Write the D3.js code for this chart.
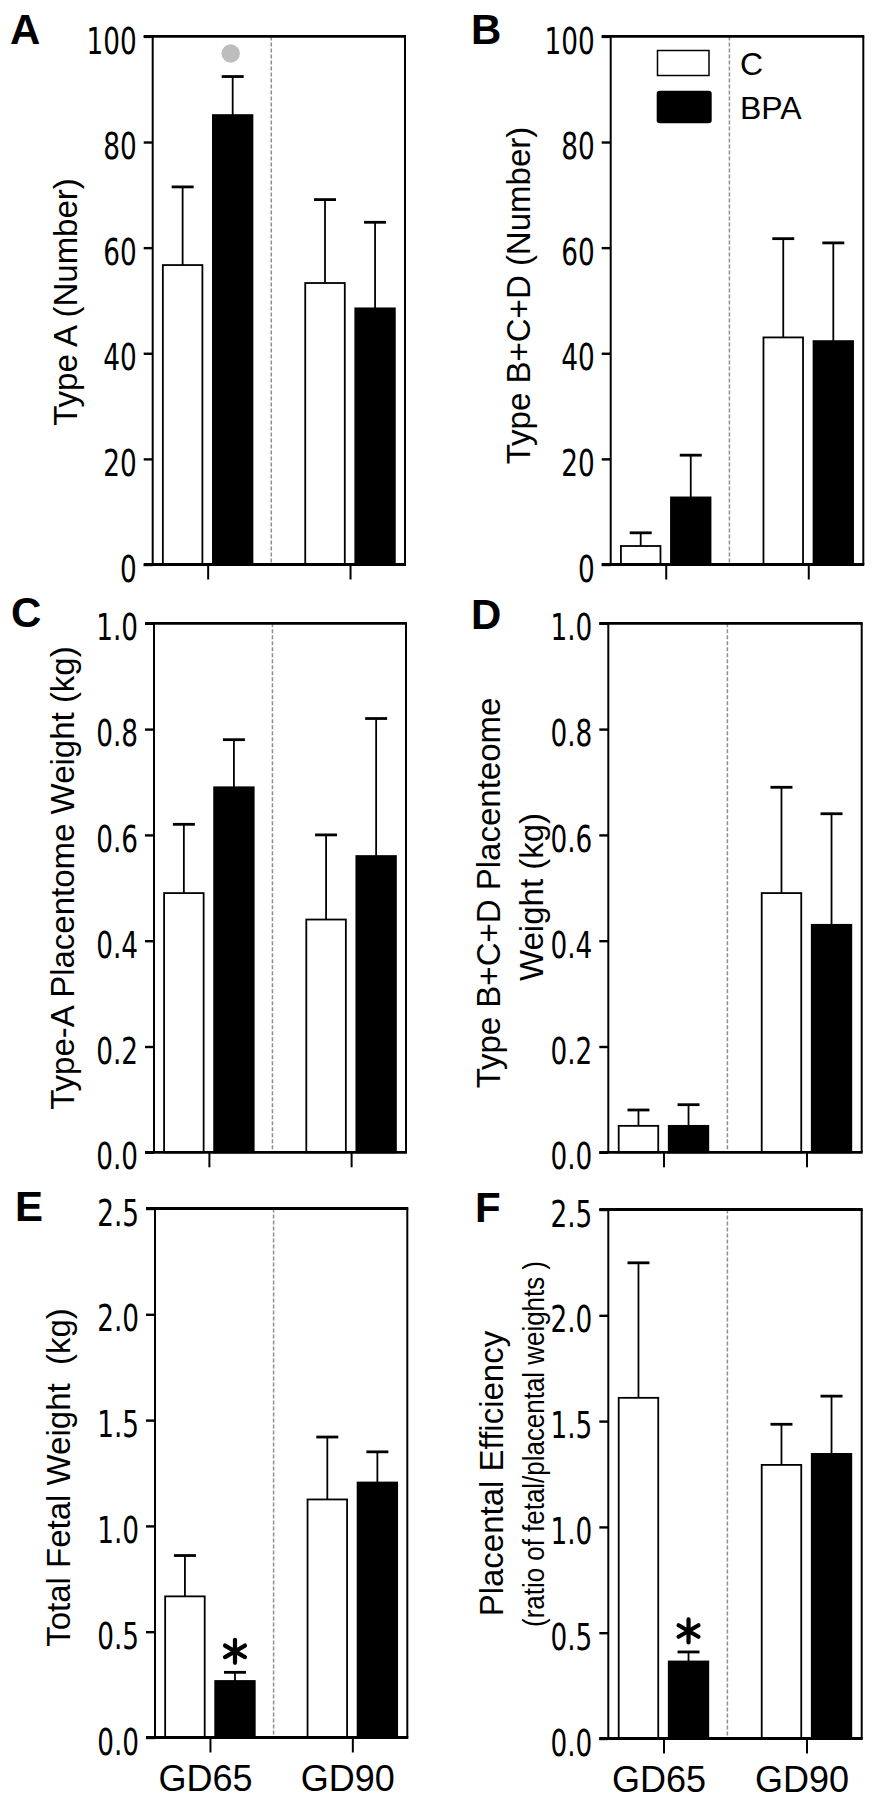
<!DOCTYPE html>
<html>
<head>
<meta charset="utf-8">
<script src="https://cdn.jsdelivr.net/npm/d3@7"></script>
<style>
  body { margin: 0; background: #fff; }
  svg { display: block; }
</style>
</head>
<body>
<svg id="chart" width="881" height="1800"></svg>
<script>
// ---------------- DATA ----------------
const categories = ["GD65", "GD90"];
const series = ["C", "BPA"];

// A: Type A (Number)
const typeA_C = [56.7, 53.3];
const typeA_C_upper = [71.5, 69.1];
const typeA_BPA = [85.1, 48.5];
const typeA_BPA_upper = [92.4, 64.8];

// B: Type B+C+D (Number)
const typeBCD_C = [3.5, 43.0];
const typeBCD_C_upper = [6.0, 61.7];
const typeBCD_BPA = [12.7, 42.3];
const typeBCD_BPA_upper = [20.7, 60.9];

// C: Type-A Placentome Weight (kg)
const typeAWeight_C = [0.49, 0.44];
const typeAWeight_C_upper = [0.62, 0.60];
const typeAWeight_BPA = [0.69, 0.56];
const typeAWeight_BPA_upper = [0.78, 0.82];

// D: Type B+C+D Placenteome Weight (kg)
const typeBCDWeight_C = [0.05, 0.49];
const typeBCDWeight_C_upper = [0.08, 0.69];
const typeBCDWeight_BPA = [0.05, 0.43];
const typeBCDWeight_BPA_upper = [0.09, 0.64];

// E: Total Fetal Weight (kg)
const fetalWeight_C = [0.667, 1.125];
const fetalWeight_C_upper = [0.86, 1.42];
const fetalWeight_BPA = [0.267, 1.205];
const fetalWeight_BPA_upper = [0.308, 1.35];

// F: Placental Efficiency
const efficiency_C = [1.61, 1.293];
const efficiency_C_upper = [2.248, 1.485];
const efficiency_BPA = [0.364, 1.345];
const efficiency_BPA_upper = [0.409, 1.618];

// Ticks
const countTicks = [0, 20, 40, 60, 80, 100];
const countTickLabels = ["0", "20", "40", "60", "80", "100"];
const weightTicks = [0, 0.2, 0.4, 0.6, 0.8, 1.0];
const weightTickLabels = ["0.0", "0.2", "0.4", "0.6", "0.8", "1.0"];
const largeTicks = [0, 0.5, 1.0, 1.5, 2.0, 2.5];
const largeTickLabels = ["0.0", "0.5", "1.0", "1.5", "2.0", "2.5"];

// Significance marks
const annotations = [
  { panel: "A", category: "GD65", series: "BPA", mark: "dot" },
  { panel: "E", category: "GD65", series: "BPA", mark: "asterisk" },
  { panel: "F", category: "GD65", series: "BPA", mark: "asterisk" }
];

// ---------------- LAYOUT ----------------
const panels = [
  { id: "A", left: 152.7, right: 405, top: 36.4, bottom: 564.5, max: 100, ticks: countTicks, tickLabels: countTickLabels,
    C: typeA_C, Cu: typeA_C_upper, BPA: typeA_BPA, BPAu: typeA_BPA_upper,
    letter: [10, 44], ylab: [{ t: "Type A (Number)", x: 65, y: 302 }], showX: false },
  { id: "B", left: 610.7, right: 863.3, top: 36.4, bottom: 564.5, max: 100, ticks: countTicks, tickLabels: countTickLabels,
    C: typeBCD_C, Cu: typeBCD_C_upper, BPA: typeBCD_BPA, BPAu: typeBCD_BPA_upper,
    letter: [471, 44], ylab: [{ t: "Type B+C+D (Number)", x: 518.5, y: 295.5 }], showX: false, legend: true },
  { id: "C", left: 154, right: 406, top: 623.3, bottom: 1152.3, max: 1.0, ticks: weightTicks, tickLabels: weightTickLabels,
    C: typeAWeight_C, Cu: typeAWeight_C_upper, BPA: typeAWeight_BPA, BPAu: typeAWeight_BPA_upper,
    letter: [11, 627], ylab: [{ t: "Type-A Placentome Weight (kg)", x: 62, y: 878 }], showX: false },
  { id: "D", left: 608.3, right: 861.7, top: 623.3, bottom: 1152.3, max: 1.0, ticks: weightTicks, tickLabels: weightTickLabels,
    C: typeBCDWeight_C, Cu: typeBCDWeight_C_upper, BPA: typeBCDWeight_BPA, BPAu: typeBCDWeight_BPA_upper,
    letter: [471, 629], ylab: [{ t: "Type B+C+D Placenteome", x: 488.5, y: 893 }, { t: "Weight (kg)", x: 531.8, y: 897 }], showX: false },
  { id: "E", left: 155, right: 407.3, top: 1208.5, bottom: 1737.5, max: 2.5, ticks: largeTicks, tickLabels: largeTickLabels,
    C: fetalWeight_C, Cu: fetalWeight_C_upper, BPA: fetalWeight_BPA, BPAu: fetalWeight_BPA_upper,
    letter: [15, 1221], ylab: [{ t: "Total Fetal Weight  (kg)", x: 58.5, y: 1477.5 }], showX: true },
  { id: "F", left: 608.3, right: 861.7, top: 1209.5, bottom: 1738.5, max: 2.5, ticks: largeTicks, tickLabels: largeTickLabels,
    C: efficiency_C, Cu: efficiency_C_upper, BPA: efficiency_BPA, BPAu: efficiency_BPA_upper,
    letter: [475, 1221.5], ylab: [{ t: "Placental Efficiency", x: 491.8, y: 1473.6 }, { t: "(ratio of fetal/placental weights )", x: 533.5, y: 1444, len: 366, size: 29 }], showX: true }
];

const sansFont = "'Liberation Sans', Arial, Helvetica, sans-serif";
const narrowFont = "'Liberation Sans Narrow', 'Arial Narrow', 'DejaVu Sans Condensed', sans-serif";
const svg = d3.select("#chart");
svg.append("rect").attr("width", 881).attr("height", 1800).attr("fill", "#fff");

const narrowScale = 0.79;

function asteriskPath(cx, cy, r) {
  const p = d3.path();
  [90, 30, 150].forEach(a => {
    const rad = a * Math.PI / 180;
    p.moveTo(cx + r * Math.cos(rad), cy - r * Math.sin(rad));
    p.lineTo(cx - r * Math.cos(rad), cy + r * Math.sin(rad));
  });
  return p.toString();
}

panels.forEach(p => {
  const g = svg.append("g").attr("class", "panel-" + p.id);
  const y = d3.scaleLinear().domain([0, p.max]).range([p.bottom, p.top]);
  const x = d3.scalePoint().domain(categories).range([p.left, p.right]).padding(0.386);
  const xs = d3.scaleBand().domain(series).range([-44.8, 44.8]).paddingInner(0.21);
  const vals = { C: p.C, BPA: p.BPA };
  const ups = { C: p.Cu, BPA: p.BPAu };

  // divider
  const divX = p.left + (p.right - p.left) * 0.47;
  g.append("line").attr("x1", divX).attr("x2", divX).attr("y1", p.top).attr("y2", p.bottom - 2)
    .attr("stroke", "#8f8f8f").attr("stroke-width", 1.5).attr("stroke-dasharray", "4,2");

  // bars
  categories.forEach((cat, i) => {
    series.forEach(s => {
      const v = vals[s][i], u = ups[s][i];
      const bx = x(cat) + xs(s), bw = xs.bandwidth();
      const cx = bx + bw / 2;
      g.append("line").attr("x1", cx).attr("x2", cx).attr("y1", y(v)).attr("y2", y(u))
        .attr("stroke", "#000").attr("stroke-width", 1.8);
      g.append("line").attr("x1", cx - 11).attr("x2", cx + 11).attr("y1", y(u)).attr("y2", y(u))
        .attr("stroke", "#000").attr("stroke-width", 2.8);
      g.append("rect").attr("x", bx).attr("y", y(v)).attr("width", bw).attr("height", y(0) - y(v))
        .attr("fill", s === "C" ? "#fff" : "#000").attr("stroke", "#000").attr("stroke-width", 1.8);
    });
  });

  // annotations
  annotations.filter(a => a.panel === p.id).forEach(a => {
    const i = categories.indexOf(a.category);
    const cx = x(a.category) + xs(a.series) + xs.bandwidth() / 2;
    const capY = y(ups[a.series][i]);
    if (a.mark === "dot") {
      g.append("circle").attr("cx", cx - 2).attr("cy", capY - 23).attr("r", 9.2).attr("fill", "#bdbdbd");
    } else {
      g.append("path").attr("d", asteriskPath(cx, capY - 21, 11.5))
        .attr("stroke", "#000").attr("stroke-width", 4.2).attr("stroke-linecap", "round").attr("fill", "none");
    }
  });

  // y axis
  const yAxis = d3.axisLeft(y).tickValues(p.ticks).tickFormat((d, i) => p.tickLabels[i]).tickSize(9).tickPadding(7);
  const ya = g.append("g").attr("transform", `translate(${p.left},0)`).call(yAxis);
  ya.select(".domain").remove();
  ya.selectAll(".tick line").attr("stroke", "#000").attr("stroke-width", 2.4);
  ya.selectAll(".tick text")
    .attr("font-family", narrowFont).attr("font-size", 37).attr("fill", "#000")
    .attr("text-anchor", "end")
    .attr("x", -16 / narrowScale).attr("dy", "0.45em")
    .attr("transform", `scale(${narrowScale},1)`);

  // x axis
  const xAxis = d3.axisBottom(x).tickSize(15).tickFormat(d => p.showX ? d : "");
  const xa = g.append("g").attr("transform", `translate(0,${p.bottom})`).call(xAxis);
  xa.select(".domain").remove();
  xa.selectAll(".tick line").attr("stroke", "#000").attr("stroke-width", 2);
  xa.selectAll(".tick text")
    .attr("font-family", sansFont).attr("font-size", 36).attr("fill", "#000")
    .attr("y", 53).attr("dy", 0).attr("dx", -5);

  // frame
  g.append("line").attr("x1", p.left).attr("x2", p.left).attr("y1", p.top).attr("y2", p.bottom)
    .attr("stroke", "#000").attr("stroke-width", 2);
  g.append("line").attr("x1", p.right).attr("x2", p.right).attr("y1", p.top).attr("y2", p.bottom)
    .attr("stroke", "#000").attr("stroke-width", 2);
  g.append("line").attr("x1", p.left - 9).attr("x2", p.right + 1).attr("y1", p.top).attr("y2", p.top)
    .attr("stroke", "#000").attr("stroke-width", 2.8);
  g.append("line").attr("x1", p.left - 9).attr("x2", p.right + 1).attr("y1", p.bottom).attr("y2", p.bottom)
    .attr("stroke", "#000").attr("stroke-width", 2.8);

  // y label(s)
  p.ylab.forEach(l => {
    const t = g.append("text")
      .attr("transform", `translate(${l.x},${l.y}) rotate(-90)`)
      .attr("text-anchor", "middle").attr("dy", "0.35em")
      .attr("font-family", sansFont).attr("font-size", l.size || 33).attr("fill", "#000")
      .style("white-space", "pre")
      .text(l.t);
    if (l.len) t.attr("textLength", l.len).attr("lengthAdjust", "spacingAndGlyphs");
  });

  // panel letter
  g.append("text").attr("x", p.letter[0]).attr("y", p.letter[1])
    .attr("font-family", sansFont).attr("font-weight", "bold").attr("font-size", 42).attr("fill", "#000")
    .text(p.id);

  // legend
  if (p.legend) {
    const lg = g.append("g");
    lg.append("rect").attr("x", 657.5).attr("y", 50.5).attr("width", 51.5).attr("height", 25)
      .attr("fill", "#fff").attr("stroke", "#000").attr("stroke-width", 1.5);
    lg.append("rect").attr("x", 656.7).attr("y", 90.7).attr("width", 55).attr("height", 32.5).attr("rx", 3)
      .attr("fill", "#000");
    lg.append("text").attr("x", 740).attr("y", 74.6)
      .attr("font-family", sansFont).attr("font-size", 32).attr("fill", "#000").text(series[0]);
    lg.append("text").attr("x", 740).attr("y", 118.6)
      .attr("font-family", sansFont).attr("font-size", 32).attr("fill", "#000").text(series[1]);
  }
});
</script>
</body>
</html>
